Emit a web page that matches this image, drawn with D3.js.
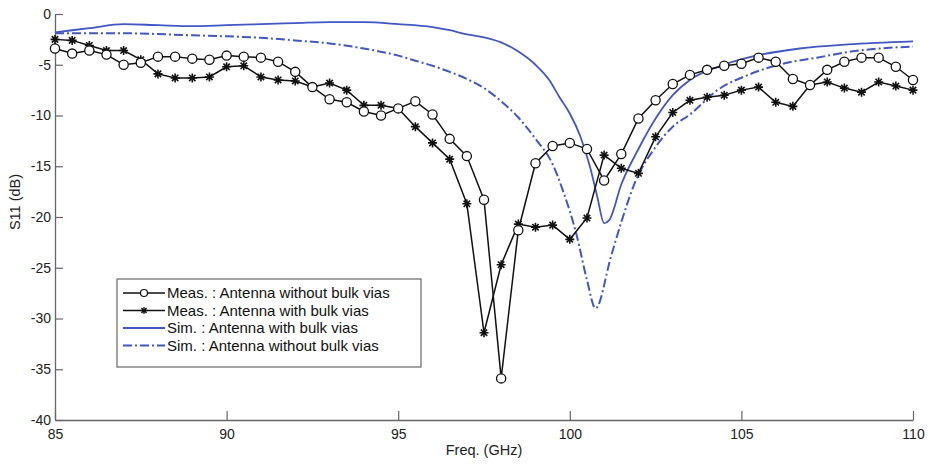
<!DOCTYPE html>
<meta charset="utf-8">
<style>
    body {margin: 0; background: #fff;}
    svg {font-family: 'Liberation Sans', Arial, sans-serif; display: block;}
</style>

<svg width="929" height="464"></svg>

<script src="https://cdnjs.cloudflare.com/ajax/libs/d3/7.8.5/d3.min.js"></script>
<script>

// measured points, every 0.5 GHz
var measFreq = [85, 85.5, 86, 86.5, 87, 87.5, 88, 88.5, 89, 89.5, 90, 90.5, 91, 91.5, 92, 92.5,
    93, 93.5, 94, 94.5, 95, 95.5, 96, 96.5, 97, 97.5, 98, 98.5, 99, 99.5, 100, 100.5, 101, 101.5,
    102, 102.5, 103, 103.5, 104, 104.5, 105, 105.5, 106, 106.5, 107, 107.5, 108, 108.5, 109, 109.5, 110];

var measNoVias = [-3.4, -3.9, -3.6, -4.0, -5.0, -4.8, -4.2, -4.2, -4.4, -4.5, -4.1, -4.2, -4.3, -4.7, -5.7, -7.2,
    -8.4, -8.7, -9.6, -10.0, -9.3, -8.6, -9.9, -12.3, -14.0, -18.3, -35.9, -21.3, -14.7, -13.0, -12.7, -13.3, -16.4, -13.8,
    -10.3, -8.5, -6.9, -6.0, -5.5, -5.1, -4.9, -4.3, -4.7, -6.4, -7.0, -5.5, -4.7, -4.3, -4.3, -5.2, -6.5];

var measVias = [-2.5, -2.6, -3.1, -3.6, -3.6, -4.5, -5.9, -6.3, -6.3, -6.2, -5.2, -5.1, -6.2, -6.5, -6.6, -7.2,
    -6.8, -7.5, -9.0, -9.0, -9.3, -11.1, -12.7, -14.3, -18.7, -31.4, -24.7, -20.7, -21.0, -20.8, -22.2, -20.1, -13.9, -15.2,
    -15.7, -12.1, -9.7, -8.5, -8.2, -8.0, -7.5, -7.2, -8.7, -9.1, -7.0, -6.7, -7.3, -7.7, -6.7, -7.1, -7.5];

// simulated curves
var simViasFreq = [85, 86, 87, 88, 89, 90, 91, 92, 93, 94, 95, 96, 96.5, 97, 97.5, 98, 98.5, 99, 99.4, 99.7,
    100, 100.3, 100.6, 100.8, 101, 101.15, 101.5, 102, 102.5, 103, 103.5, 104.4, 105.3, 106.7, 108.1, 110];
var simVias = [-1.8, -1.4, -1.0, -1.1, -1.2, -1.1, -1.0, -0.9, -0.8, -0.8, -1.0, -1.3, -1.6, -2.0, -2.3, -2.8, -3.7, -5.0, -6.5, -8.2,
    -9.8, -12.0, -15.2, -18.0, -20.6, -20.3, -16.8, -13.3, -10.3, -8.0, -6.5, -5.1, -4.2, -3.4, -3.0, -2.7];

var simNoViasFreq = [85, 87, 89, 90, 91, 92, 93, 94, 95, 95.5, 96, 96.5, 97, 97.5, 98, 98.5, 99, 99.5, 99.8,
    100.2, 100.5, 100.75, 101.2, 101.5, 101.9, 102.5, 103, 103.5, 104.3, 105.2, 106.2, 107.2, 108.2, 110];
var simNoVias = [-1.9, -1.9, -2.1, -2.2, -2.35, -2.6, -2.9, -3.4, -4.1, -4.6, -5.1, -5.7, -6.4, -7.3, -8.6, -10.2, -12.3, -14.8, -17.4,
    -21.8, -26.2, -29.0, -23.9, -20.5, -16.6, -13.1, -11.1, -9.9, -7.5, -6.0, -4.9, -4.3, -3.7, -3.2];

var xTicks = [85, 90, 95, 100, 105, 110];
var yTicks = [0, -5, -10, -15, -20, -25, -30, -35, -40];

var legendLabels = ["Meas. : Antenna without bulk vias", "Meas. : Antenna with bulk vias",
    "Sim. : Antenna with bulk vias", "Sim. : Antenna without bulk vias"];

var svg = d3.select("svg");
var blue = "#4057c4";
var axisColor = "#666";

var x = d3.scaleLinear().domain([85, 110]).range([55, 913]);
var y = d3.scaleLinear().domain([-40, 0]).range([420, 14]);

var starPath = "M-4.5,0L4.5,0M0,-4.5L0,4.5M-3.2,-3.2L3.2,3.2M-3.2,3.2L3.2,-3.2";

function zip(fs, vs) {
  return fs.map(function(f, i) { return [f, vs[i]]; });
}

var smooth = d3.line()
    .x(function(d) { return x(d[0]); })
    .y(function(d) { return y(d[1]); })
    .curve(d3.curveMonotoneX);

var straight = d3.line()
    .x(function(d) { return x(d[0]); })
    .y(function(d) { return y(d[1]); });

// AXES
var xAxis = svg.append("g")
    .attr("transform", "translate(0," + y(-40) + ")")
    .call(d3.axisBottom(x).tickValues(xTicks).tickSizeInner(-9).tickSizeOuter(0).tickPadding(16));

var yAxis = svg.append("g")
    .attr("transform", "translate(" + x(85) + ",0)")
    .call(d3.axisLeft(y).tickValues(yTicks).tickSizeInner(-8).tickSizeOuter(0).tickPadding(4)
        .tickFormat(function(d) { return String(d); }));

[xAxis, yAxis].forEach(function(a) {
  a.select(".domain").attr("stroke", axisColor).attr("stroke-width", 1.3);
  a.selectAll(".tick line").attr("stroke", axisColor).attr("stroke-width", 1.2);
  a.selectAll(".tick text").attr("fill", "#222").style("font-size", "14px");
});
xAxis.selectAll(".tick text").attr("dy", "0.2em");

svg.append("text")
    .attr("x", 484)
    .attr("y", 455)
    .attr("text-anchor", "middle")
    .style("font-size", "14.5px")
    .attr("fill", "#222")
    .text("Freq. (GHz)");

svg.append("text")
    .attr("transform", "translate(20,202) rotate(-90)")
    .attr("text-anchor", "middle")
    .style("font-size", "14.5px")
    .attr("fill", "#222")
    .text("S11 (dB)");

// SIMULATION CURVES
svg.append("path")
    .datum(zip(simNoViasFreq, simNoVias))
    .attr("d", smooth)
    .attr("fill", "none")
    .attr("stroke", blue)
    .attr("stroke-width", 2)
    .attr("stroke-dasharray", "9,3,2,3");

svg.append("path")
    .datum(zip(simViasFreq, simVias))
    .attr("d", smooth)
    .attr("fill", "none")
    .attr("stroke", blue)
    .attr("stroke-width", 1.8);

// MEASURED CURVES
var viasData = zip(measFreq, measVias);
var noViasData = zip(measFreq, measNoVias);

svg.append("path")
    .datum(viasData)
    .attr("d", straight)
    .attr("fill", "none")
    .attr("stroke", "#111")
    .attr("stroke-width", 1.5);

svg.append("g")
    .selectAll("path")
    .data(viasData)
    .enter().append("path")
    .attr("transform", function(d) { return "translate(" + x(d[0]) + "," + y(d[1]) + ")"; })
    .attr("d", starPath)
    .attr("stroke", "#111")
    .attr("stroke-width", 1.6);

svg.append("path")
    .datum(noViasData)
    .attr("d", straight)
    .attr("fill", "none")
    .attr("stroke", "#111")
    .attr("stroke-width", 1.5);

svg.append("g")
    .selectAll("circle")
    .data(noViasData)
    .enter().append("circle")
    .attr("cx", function(d) { return x(d[0]); })
    .attr("cy", function(d) { return y(d[1]); })
    .attr("r", 4.6)
    .attr("fill", "#fff")
    .attr("stroke", "#111")
    .attr("stroke-width", 1.3);

// LEGEND
var legend = svg.append("g").attr("transform", "translate(117,279)");

legend.append("rect")
    .attr("width", 304)
    .attr("height", 88)
    .attr("fill", "#fff")
    .attr("stroke", axisColor)
    .attr("stroke-width", 1.2);

legendLabels.forEach(function(label, i) {
  var ly = 14 + i * 17.5;
  var row = legend.append("g");
  var line = row.append("line")
      .attr("x1", 6).attr("x2", 48)
      .attr("y1", ly).attr("y2", ly)
      .attr("stroke", i < 2 ? "#111" : blue)
      .attr("stroke-width", i < 2 ? 1.5 : 1.8);
  if (i == 3) line.attr("stroke-dasharray", "9,3,2,3");
  if (i == 0) {
    row.append("circle").attr("cx", 27).attr("cy", ly).attr("r", 3.5)
       .attr("fill", "#fff").attr("stroke", "#111").attr("stroke-width", 1.2);
  }
  if (i == 1) {
    row.append("path").attr("transform", "translate(27," + ly + ") scale(0.8)")
       .attr("d", starPath).attr("stroke", "#111").attr("stroke-width", 1.6);
  }
  row.append("text")
      .attr("x", 50)
      .attr("y", ly)
      .attr("dy", "0.35em")
      .style("font-size", "15px")
      .attr("fill", "#111")
      .text(label);
});

</script>
